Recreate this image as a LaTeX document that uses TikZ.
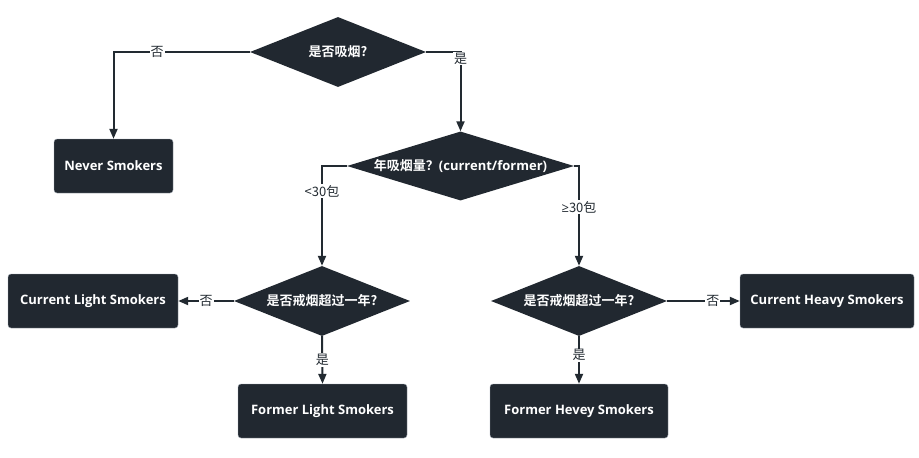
\documentclass[tikz,border=0pt]{standalone}
\usepackage{fontspec}
\setmainfont{Open Sans}
\newfontfamily\cjk{Noto Sans CJK SC}[BoldFont={Noto Sans CJK SC Bold}]
\usetikzlibrary{shapes,arrows.meta,positioning}
\definecolor{boxfill}{HTML}{212830}
\definecolor{boxline}{HTML}{9AA3AC}
\definecolor{linkcol}{HTML}{222A31}
\tikzstyle{every node}=[text=white, font=\fontsize{13}{15}\selectfont\bfseries]

\begin{document}
\begin{tikzpicture}[
    x=1pt, y=-1pt,
    decision/.style={
        diamond,
        fill=boxfill,
        inner sep=0pt,
        minimum width=176pt,
        minimum height=70pt
        },
    outcome/.style={
        rectangle,
        draw=boxline,
        thin,
        fill=boxfill,
        rounded corners=3pt,
        minimum height=54pt
        },
    link/.style={
        draw=linkcol,
        line width=2pt,
        -{Triangle[length=10pt,width=8pt]}
        },
    answer/.style={
        fill=white,
        text=linkcol,
        inner sep=1pt,
        font=\cjk\fontsize{13}{15}\selectfont
        },
  ]
  \useasboundingbox (0,0) rectangle (919,458);
  % Questions
  \node[decision] (smoke) at (338,52) {\makebox[0pt]{\cjk\bfseries 是否吸烟?}};
  \node[decision, minimum width=227pt, minimum height=69pt] (amount) at (460.5,166)
      {\makebox[0pt]{{\cjk\bfseries 年吸烟量？}(current/former)}};
  \node[decision] (quitlight) at (322,301) {\makebox[0pt]{\cjk\bfseries 是否戒烟超过一年?}};
  \node[decision] (quitheavy) at (579,301) {\makebox[0pt]{\cjk\bfseries 是否戒烟超过一年?}};
  % Outcomes
  \node[outcome, minimum width=119pt] (never) at (113.5,166) {Never Smokers};
  \node[outcome, minimum width=170pt] (curlight) at (93,301) {Current Light Smokers};
  \node[outcome, minimum width=169pt] (formlight) at (322.5,411) {Former Light Smokers};
  \node[outcome, minimum width=174pt] (curheavy) at (827,301) {Current Heavy Smokers};
  \node[outcome, minimum width=178pt] (formheavy) at (579,411) {Former Hevey Smokers};
  % Links
  \draw[link] (smoke.west) -| node[answer, pos=0.34] {否} (never.north);
  \draw[link] (smoke.east) -| node[answer, pos=0.54] {是} (amount.north);
  \draw[link] (amount.west) -| node[answer, pos=0.625] {<30包} (quitlight.north);
  \draw[link] (amount.east) -| node[answer, pos=0.705] {{\rmfamily ≥}30包} (quitheavy.north);
  \draw[link] (quitlight.west) -- node[answer] {否} (curlight.east);
  \draw[link] (quitlight.south) -- node[answer] {是} (formlight.north);
  \draw[link] (quitheavy.east) -- node[answer, pos=0.63] {否} (curheavy.west);
  \draw[link] (quitheavy.south) -- node[answer, pos=0.4] {是} (formheavy.north);
\end{tikzpicture}
\end{document}
